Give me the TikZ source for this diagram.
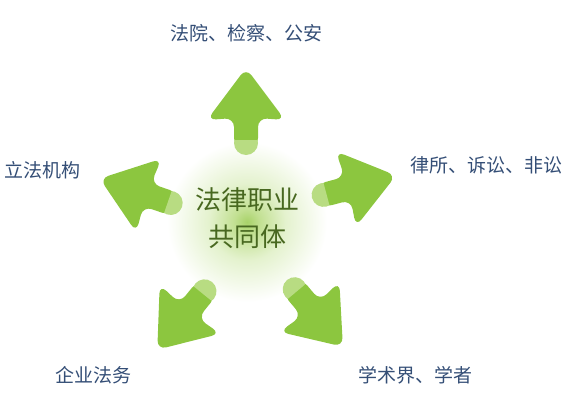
\documentclass[tikz,border=0pt]{standalone}
\usepackage{fontspec}
\setmainfont{Noto Sans CJK SC}
\usepackage{tikz}

\definecolor{arrowgreen}{RGB}{140,198,63}
\definecolor{capgreen}{RGB}{184,220,130}
\definecolor{glowgreen}{RGB}{168,210,105}
\definecolor{glowmid}{RGB}{194,224,146}
\definecolor{glowpale}{RGB}{228,242,206}
\definecolor{labelblue}{RGB}{52,78,118}
\definecolor{centergreen}{RGB}{72,104,32}
\pgfdeclareradialshading{coreglow}{\pgfpoint{0bp}{0bp}}{color(0bp)=(glowgreen); color(4bp)=(glowmid); color(12bp)=(glowpale); color(25bp)=(white); color(50bp)=(white)}

\begin{document}
\begin{tikzpicture}[x=1pt, y=-1pt,
  sidetext/.style={text=labelblue, font=\fontsize{19pt}{22pt}\selectfont, inner sep=0pt},
  centertext/.style={text=centergreen, font=\fontsize{26pt}{37pt}\selectfont, align=center, inner sep=0pt}]
\useasboundingbox (0,0) rectangle (588,404);
% Glow behind the centre text
\shade[shading=coreglow] (247,222) circle (80pt);
% The five arrows: tail x, tail y, direction
\foreach \x/\y/\a in {246/143/90, 323.6/194.9/15, 170.7/203/161, 204.5/291.3/-129, 294.7/289.2/-50} {
  \begin{scope}[shift={(\x,\y)}, rotate=\a]
    \fill[arrowgreen, rounded corners=9pt] (-4,-12) -- (25,-12) -- (23,-39) -- (75,0) -- (23,39) -- (25,12) -- (-4,12) -- cycle;
    \begin{scope} % light tail end
      \clip (-13,-13) rectangle (3,13);
      \fill[capgreen] (0,0) circle (12pt);
    \end{scope}
  \end{scope}
}
% Centre text
\node[centertext] (core) at (247,218) {法律职业\\共同体};
% Labels round the arrows
\node[sidetext] (fayuan) at (246,33) {法院、检察、公安};
\node[sidetext] (lvsuo) at (486,165) {律所、诉讼、非讼};
\node[sidetext] (lifa) at (43,170) {立法机构};
\node[sidetext] (qiye) at (93,375) {企业法务};
\node[sidetext] (xueshu) at (415,375) {学术界、学者};
\end{tikzpicture}
\end{document}
